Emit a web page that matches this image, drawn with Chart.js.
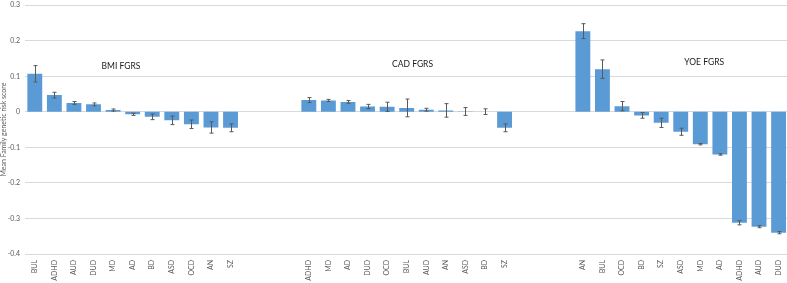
<!DOCTYPE html>
<html>
<head>
<meta charset="utf-8">
<script src="https://cdn.jsdelivr.net/npm/chart.js@4/dist/chart.umd.min.js"></script>
<style>
  html, body { margin: 0; padding: 0; background: #fff; }
  #wrap { position: relative; width: 787px; height: 283px; overflow: hidden; }
  /* canvas slightly oversized and pulled up so the plot fills the frame like the original */
  #fgrs-chart { position: absolute; left: 0; top: -4px; }
</style>
</head>
<body>
<div id="wrap"><canvas id="fgrs-chart" width="793" height="287"></canvas></div>
<script>
// ── DATA ────────────────────────────────────────────────────────────────────
// Three FGRS panels, each sorted by mean score. Errors are +/- half-width.
var bmiLabels = ['BUL', 'ADHD', 'AUD', 'DUD', 'MD', 'AD', 'BD', 'ASD', 'OCD', 'AN', 'SZ'];
var bmiValues = [0.107, 0.047, 0.025, 0.021, 0.005, -0.007, -0.014, -0.024, -0.035, -0.044, -0.045];
var bmiErrors = [0.023, 0.008, 0.004, 0.004, 0.003, 0.003, 0.008, 0.012, 0.012, 0.016, 0.011];

var cadLabels = ['ADHD', 'MD', 'AD', 'DUD', 'OCD', 'BUL', 'AUD', 'AN', 'ASD', 'BD', 'SZ'];
var cadValues = [0.033, 0.032, 0.028, 0.015, 0.014, 0.011, 0.006, 0.004, 0.001, 0.0005, -0.045];
var cadErrors = [0.007, 0.003, 0.004, 0.006, 0.013, 0.025, 0.004, 0.019, 0.011, 0.008, 0.011];

var yoeLabels = ['AN', 'BUL', 'OCD', 'BD', 'SZ', 'ASD', 'MD', 'AD', 'ADHD', 'AUD', 'DUD'];
var yoeValues = [0.227, 0.120, 0.016, -0.010, -0.031, -0.056, -0.091, -0.120, -0.312, -0.323, -0.340];
var yoeErrors = [0.021, 0.026, 0.013, 0.008, 0.013, 0.010, 0.002, 0.002, 0.006, 0.003, 0.003];

var groupTitles = ['BMI FGRS', 'CAD FGRS', 'YOE FGRS'];
var GAP_SLOTS = 3; // empty categories between panels

// Panel title anchors in data space (category index, score).
var titleAnchorX = [4.4, 19.3, 34.2];
var titleAnchorY = [0.127, 0.134, 0.14];

// ── BUILD FLAT SERIES ────────────────────────────────────────────────────────
var labels = [], values = [], errors = [];
function _pushGroup(ls, vs, es, last) {
  for (var i = 0; i < ls.length; i++) {
    labels.push(ls[i]); values.push(vs[i]); errors.push(es[i]);
  }
  if (last) return;
  for (var g = 0; g < GAP_SLOTS; g++) {
    labels.push(''); values.push(null); errors.push(null);
  }
}
_pushGroup(bmiLabels, bmiValues, bmiErrors, false);
_pushGroup(cadLabels, cadValues, cadErrors, false);
_pushGroup(yoeLabels, yoeValues, yoeErrors, true);

var FONT = 'Lato, "Noto Sans", sans-serif';
var GREY = '#595959';

// Error bars drawn on top of the bars using the chart's own scales.
var errorBarPlugin = {
  id: 'errorBars',
  afterDatasetsDraw: function(chart) {
    var meta = chart.getDatasetMeta(0);
    var yScale = chart.scales.y;
    var ctx = chart.ctx;
    ctx.save();
    ctx.strokeStyle = GREY;
    ctx.lineWidth = 1;
    meta.data.forEach(function(bar, i) {
      var v = values[i], e = errors[i];
      if (v == null || e == null) return;
      var x = Math.round(bar.x) + 0.5;
      var yHi = yScale.getPixelForValue(v + e);
      var yLo = yScale.getPixelForValue(v - e);
      ctx.beginPath();
      ctx.moveTo(x, yHi); ctx.lineTo(x, yLo);
      ctx.moveTo(x - 2, yHi); ctx.lineTo(x + 2, yHi);
      ctx.moveTo(x - 2, yLo); ctx.lineTo(x + 2, yLo);
      ctx.stroke();
    });
    ctx.restore();
  }
};

// Panel titles (text boxes in the original figure).
var panelTitlePlugin = {
  id: 'panelTitles',
  afterDraw: function(chart) {
    var ctx = chart.ctx;
    ctx.save();
    ctx.fillStyle = '#1a1a1a';
    ctx.font = '8.5px ' + FONT;
    ctx.textAlign = 'center';
    ctx.textBaseline = 'middle';
    for (var i = 0; i < groupTitles.length; i++) {
      var px = chart.scales.x.getPixelForValue(titleAnchorX[i]);
      var py = chart.scales.y.getPixelForValue(titleAnchorY[i]);
      ctx.fillText(groupTitles[i], px, py);
    }
    ctx.restore();
  }
};

new Chart(document.getElementById('fgrs-chart'), {
  type: 'bar',
  data: {
    labels: labels,
    datasets: [{
      label: 'Mean FGRS',
      data: values,
      backgroundColor: '#5b9bd5',
      borderWidth: 0,
      barPercentage: 0.76,
      categoryPercentage: 1.0
    }]
  },
  options: {
    responsive: false,
    animation: false,
    devicePixelRatio: 1,
    layout: { padding: 0 },
    plugins: {
      legend: { display: false },
      tooltip: { enabled: false }
    },
    scales: {
      x: {
        grid: { display: false, drawTicks: false },
        border: { display: false },
        ticks: {
          autoSkip: false,
          maxRotation: 90,
          minRotation: 90,
          padding: 6,
          color: GREY,
          font: { family: FONT, size: 7 }
        },
        afterFit: function(s) { s.height = 29; }
      },
      y: {
        min: -0.4,
        max: 0.3,
        grid: { color: '#d9d9d9', drawTicks: false },
        border: { display: false },
        ticks: {
          stepSize: 0.1,
          padding: 5,
          color: GREY,
          font: { family: FONT, size: 7 },
          callback: function(v) { return String(Math.round(v * 10) / 10); }
        },
        title: {
          display: true,
          text: 'Mean Family genetic risk score',
          color: GREY,
          padding: 0,
          font: { family: FONT, size: 7 }
        },
        afterFit: function(s) { s.width = 25; }
      }
    }
  },
  plugins: [errorBarPlugin, panelTitlePlugin]
});
</script>
</body>
</html>
